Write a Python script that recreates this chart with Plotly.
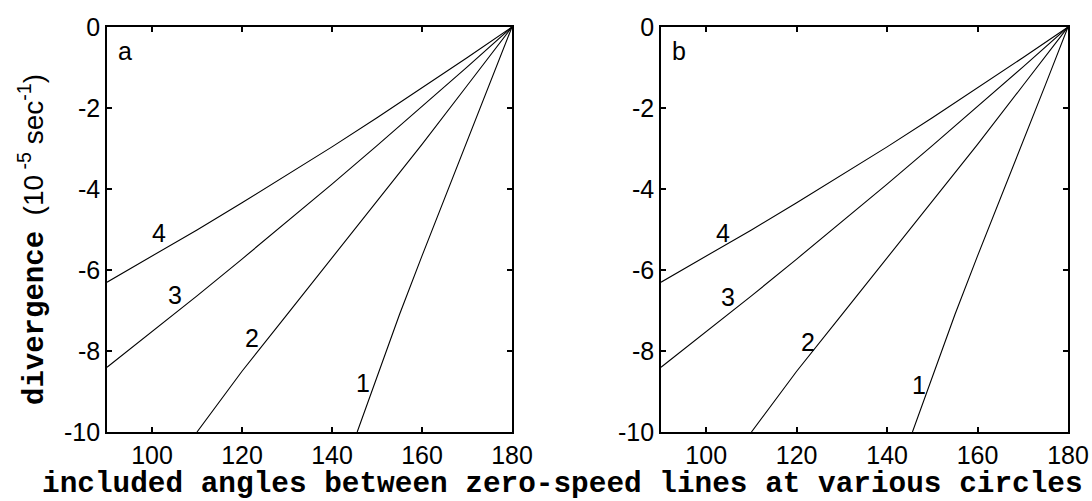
import plotly.graph_objects as go

# ---- data ----
line1_x = [145.6, 150.0, 155.0, 160.0, 165.0, 170.0, 175.0, 180.0]
line1_y = [-10.0, -8.65, -7.1, -5.65, -4.25, -2.85, -1.43, 0.0]
line2_x = [110.0, 120.0, 130.0, 140.0, 150.0, 160.0, 170.0, 180.0]
line2_y = [-10.0, -8.5, -7.1, -5.7, -4.3, -2.9, -1.45, 0.0]
line3_x = [90.0, 100.0, 110.0, 120.0, 130.0, 140.0, 150.0, 160.0, 170.0, 180.0]
line3_y = [-8.4, -7.53, -6.64, -5.73, -4.81, -3.88, -2.93, -1.97, -0.99, 0.0]
line4_x = [90.0, 100.0, 110.0, 120.0, 130.0, 140.0, 150.0, 160.0, 170.0, 180.0]
line4_y = [-6.3, -5.66, -5.01, -4.34, -3.66, -2.96, -2.24, -1.51, -0.76, 0.0]

curve_names = ["1", "2", "3", "4"]
# label positions per panel (x, y in data units)
labels_a = [(146.9, -8.79), (122.2, -7.68), (105.1, -6.62), (101.6, -5.09)]
labels_b = [(147.1, -8.84), (122.5, -7.78), (104.8, -6.67), (103.7, -5.09)]
panel_tags = ["a", "b"]

x_ticks = [100, 120, 140, 160, 180]
x_tick_labels = ["100", "120", "140", "160", "180"]
y_ticks = [0, -2, -4, -6, -8, -10]
y_tick_labels = ["0", "-2", "-4", "-6", "-8", "-10"]

W, H = 1092, 501
SANS = "Liberation Sans, Arial, sans-serif"
MONO = "Liberation Mono, Courier New, monospace"


def px(p):
    return p / W


def py(p):
    return 1 - p / H


fig = go.Figure()
curves = [(line1_x, line1_y), (line2_x, line2_y), (line3_x, line3_y), (line4_x, line4_y)]
for ax_suffix in ["", "2"]:
    for (xs, ys) in curves:
        fig.add_trace(go.Scatter(x=xs, y=ys, mode="lines",
                                 line=dict(color="black", width=1.1),
                                 xaxis="x" + ax_suffix, yaxis="y" + ax_suffix,
                                 showlegend=False, hoverinfo="skip"))

ydom = [py(432), py(27)]
axis_common = dict(showgrid=False, zeroline=False, showline=True, linecolor="black",
                   linewidth=1.6, mirror="ticks", ticks="inside", ticklen=5,
                   tickcolor="black", tickwidth=1.5, automargin=False,
                   tickfont=dict(family=SANS, size=25, color="black"))

fig.update_layout(
    template="none",
    width=W, height=H,
    margin=dict(l=0, r=0, t=0, b=0, autoexpand=False),
    paper_bgcolor="white", plot_bgcolor="white",
    xaxis=dict(domain=[px(107), px(512)], range=[90, 180], tickvals=x_ticks,
               ticktext=x_tick_labels, anchor="y", **axis_common),
    yaxis=dict(domain=ydom, range=[-10, 0], tickvals=y_ticks, ticktext=y_tick_labels,
               anchor="x", **axis_common),
    xaxis2=dict(domain=[px(661), px(1068)], range=[90, 180], tickvals=x_ticks,
                ticktext=x_tick_labels, anchor="y2", **axis_common),
    yaxis2=dict(domain=ydom, range=[-10, 0], tickvals=y_ticks, ticktext=y_tick_labels,
                anchor="x2", **axis_common),
)

annotations = []
for suffix, labs, tag in [("", labels_a, panel_tags[0]), ("2", labels_b, panel_tags[1])]:
    for name, (lx, ly) in zip(curve_names, labs):
        annotations.append(dict(x=lx, y=ly, xref="x" + suffix, yref="y" + suffix,
                                text=name, showarrow=False,
                                font=dict(family=SANS, size=25, color="black")))
    annotations.append(dict(x=0.0, y=1.0, xref=("x" + suffix) + " domain",
                            yref=("y" + suffix) + " domain", xshift=9, yshift=-8,
                            xanchor="left", yanchor="top", text=tag, showarrow=False,
                            font=dict(family=SANS, size=25, color="black")))

annotations.append(dict(x=px(562), y=py(484), xref="paper", yref="paper",
                        text="<b>included angles between zero-speed lines at various circles</b>",
                        showarrow=False, xanchor="center", yanchor="middle",
                        font=dict(family=MONO, size=29.4, color="black")))
annotations.append(dict(x=px(32), y=py(240), xref="paper", yref="paper",
                        textangle=-90, showarrow=False, xanchor="center", yanchor="middle",
                        text=("<span style='font-family:Liberation Mono;font-size:29px;font-weight:bold'>divergence</span>"
                              "  (10<sup> -5</sup> sec<sup>-1</sup>)"),
                        font=dict(family=SANS, size=28, color="black")))
fig.update_layout(annotations=annotations)

fig.write_html("out.html", config={"displayModeBar": False},
               post_script="document.body.style.margin='0';document.body.style.overflow='hidden';")
